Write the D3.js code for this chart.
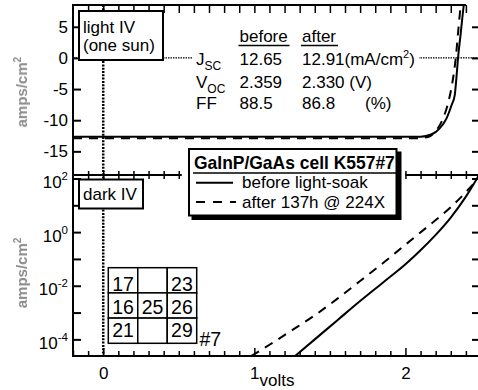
<!DOCTYPE html>
<html>
<head>
<meta charset="utf-8">
<title>GaInP/GaAs cell K557#7 light and dark IV</title>
<style>
  body { margin: 0; background: white; }
  svg { display: block; }
  text { font-family: "Liberation Sans", Arial, sans-serif; font-size: 17px; fill: black; }
  .axis path.domain { display: none; }
  .axis line { stroke: black; stroke-width: 1.5; }
  .frame { stroke: black; stroke-width: 2; }
</style>
<script src="https://cdnjs.cloudflare.com/ajax/libs/d3/7.8.5/d3.min.js"></script>
</head>
<body>
<script>
// light IV at one sun: volts vs mA/cm2
var lightVoltsBefore = [-0.2, 2.10, 2.17, 2.227, 2.272, 2.305, 2.326, 2.338, 2.348, 2.366, 2.386, 2.40];
var lightJBefore     = [-12.65, -12.65, -12.3, -11.3, -9.7, -7.6, -6.0, -3.0, 0, 4.0, 8.5, 11];
var lightVoltsAfter  = [-0.2, 2.05, 2.15, 2.205, 2.249, 2.287, 2.315, 2.333, 2.35, 2.366, 2.38];
var lightJAfter      = [-12.91, -12.91, -12.7, -11.6, -9.7, -6.8, -3.3, 0, 4.5, 8.5, 11];

// dark IV: volts vs amps/cm2 (log)
var darkVoltsBefore = [1.27, 1.40, 1.55, 1.70, 1.85, 2.00, 2.10, 2.20, 2.30, 2.40, 2.50];
var darkJBefore     = [2.4e-5, 1.0e-4, 5.2e-4, 2.7e-3, 1.3e-2, 6.3e-2, 0.21, 0.79, 3.5, 21, 180];
var darkVoltsAfter  = [0.98, 1.10, 1.25, 1.40, 1.55, 1.70, 1.85, 2.00, 2.15, 2.30, 2.45, 2.55];
var darkJAfter      = [2.4e-5, 6.3e-5, 2.2e-4, 7.9e-4, 3.3e-3, 1.5e-2, 6.9e-2, 0.34, 1.66, 8.5, 63, 280];

// tick labels
var xLabels = [0, 1, 2];
var topTicks = [5, 0, -5, -10, -15];
var logTicks = [1e2, 1e1, 1e0, 1e-1, 1e-2, 1e-3, 1e-4];
var logLabels = [["10", "2"], ["10", "0"], ["10", "-2"], ["10", "-4"]];
var logLabelValues = [1e2, 1e0, 1e-2, 1e-4];

// parameter table
var paramNames = ["J", "V", "FF"];
var paramSubs = ["SC", "OC", ""];
var paramBefore = ["12.65", "2.359", "88.5"];
var paramAfter = ["12.91", "2.330 (V)", "86.8"];

// legend
var legendTitle = "GaInP/GaAs cell K557#7";
var legendItems = ["before light-soak", "after 137h @ 224X"];

// cell map of the wafer
var cellRows = [["17", "", "23"], ["16", "25", "26"], ["21", "", "29"]];

var width = 478, height = 390;
var L = 73, R = 481, T = 5, M = 175, B = 356;

var x = d3.scaleLinear().domain([-0.2, 2.5]).range([L, R]);
var yTop = d3.scaleLinear().domain([-18.8, 8.5]).range([M, T]);
var yBot = d3.scaleLog().domain([Math.pow(10, -4.62), Math.pow(10, 2.13)]).range([B, M]);

var svg = d3.select("body").append("svg")
    .attr("width", width)
    .attr("height", height);

var defs = svg.append("defs");
defs.append("clipPath").attr("id", "clipTop").append("rect")
    .attr("x", L).attr("y", T).attr("width", width - L).attr("height", M - T);
defs.append("clipPath").attr("id", "clipBot").append("rect")
    .attr("x", L).attr("y", M).attr("width", width - L).attr("height", B - M);
defs.append("filter").attr("id", "soft").append("feGaussianBlur").attr("stdDeviation", 0.7);

// dotted zero lines
svg.append("line")
    .attr("x1", L).attr("x2", width)
    .attr("y1", yTop(0)).attr("y2", yTop(0))
    .attr("stroke", "black").attr("stroke-width", 1.2)
    .attr("stroke-dasharray", "1.5,1");
svg.append("line")
    .attr("x1", x(0)).attr("x2", x(0))
    .attr("y1", T).attr("y2", B)
    .attr("stroke", "black").attr("stroke-width", 2.5)
    .attr("stroke-dasharray", "2,1.3");

// curves
var lightLine = d3.line().curve(d3.curveMonotoneX)
    .x(d => x(d[0])).y(d => yTop(d[1]));
var darkLine = d3.line().curve(d3.curveMonotoneX)
    .x(d => x(d[0])).y(d => yBot(d[1]));

var gTop = svg.append("g").attr("clip-path", "url(#clipTop)");
gTop.append("path")
    .attr("d", lightLine(d3.zip(lightVoltsBefore, lightJBefore)))
    .attr("fill", "none").attr("stroke", "black").attr("stroke-width", 2);
gTop.append("path")
    .attr("d", lightLine(d3.zip(lightVoltsAfter, lightJAfter)))
    .attr("fill", "none").attr("stroke", "black").attr("stroke-width", 2)
    .attr("stroke-dasharray", "9,7");

var gBot = svg.append("g").attr("clip-path", "url(#clipBot)");
gBot.append("path")
    .attr("d", darkLine(d3.zip(darkVoltsBefore, darkJBefore)))
    .attr("fill", "none").attr("stroke", "black").attr("stroke-width", 2);
gBot.append("path")
    .attr("d", darkLine(d3.zip(darkVoltsAfter, darkJAfter)))
    .attr("fill", "none").attr("stroke", "black").attr("stroke-width", 2)
    .attr("stroke-dasharray", "9,7");

// frame lines
svg.append("line").attr("class", "frame").attr("x1", L).attr("x2", L).attr("y1", T - 1).attr("y2", B + 1);
svg.append("line").attr("class", "frame").attr("x1", L).attr("x2", width).attr("y1", B).attr("y2", B);
svg.append("line").attr("class", "frame").attr("x1", L).attr("x2", x(2.4)).attr("y1", T).attr("y2", T);
svg.append("line").attr("class", "frame").attr("x1", L).attr("x2", x(0.5) + 3).attr("y1", M).attr("y2", M);
svg.append("line").attr("class", "frame").attr("x1", x(2.0)).attr("x2", width).attr("y1", M).attr("y2", M);

// x ticks
var xMinor = d3.range(-2, 26).map(i => i / 10).filter(v => xLabels.indexOf(v) < 0);
svg.append("g").attr("class", "axis").attr("transform", "translate(0," + B + ")")
    .call(d3.axisTop(x).tickValues(xMinor).tickSize(5).tickFormat(""));
svg.append("g").attr("class", "axis").attr("transform", "translate(0," + B + ")")
    .call(d3.axisTop(x).tickValues(xLabels).tickSize(8).tickFormat(""));
svg.append("g").attr("class", "axis").attr("transform", "translate(0," + B + ")")
    .call(d3.axisBottom(x).tickValues(xLabels).tickSize(0).tickPadding(10.5).tickFormat(d => String(d)));

svg.append("g").attr("class", "axis").attr("transform", "translate(0," + T + ")")
    .call(d3.axisBottom(x).tickValues(d3.range(-1, 25).map(i => i / 10)).tickSize(8).tickFormat(""));

var midTicks = d3.range(-1, 26).map(i => i / 10).filter(v => v <= 0.5 || v >= 2.0);
svg.append("g").attr("class", "axis").attr("transform", "translate(0," + M + ")")
    .call(d3.axisBottom(x).tickValues(midTicks).tickSize(4).tickFormat(""));
svg.append("g").attr("class", "axis").attr("transform", "translate(0," + M + ")")
    .call(d3.axisTop(x).tickValues(midTicks).tickSize(4).tickFormat(""));

// y ticks, left and right
svg.append("g").attr("class", "axis").attr("transform", "translate(" + L + ",0)")
    .call(d3.axisRight(yTop).tickValues(topTicks).tickSize(8).tickFormat(""))
    .selectAll("line").style("stroke-width", 2);
svg.append("g").attr("class", "axis").attr("transform", "translate(" + L + ",0)")
    .call(d3.axisLeft(yTop).tickValues(topTicks).tickSize(0).tickPadding(5).tickFormat(d => String(d)));
svg.append("g").attr("class", "axis").attr("transform", "translate(" + R + ",0)")
    .call(d3.axisLeft(yTop).tickValues(topTicks).tickSize(9).tickFormat(""))
    .selectAll("line").style("stroke-width", 2);

svg.append("g").attr("class", "axis").attr("transform", "translate(" + L + ",0)")
    .call(d3.axisRight(yBot).tickValues(logTicks).tickSize(8).tickFormat(""))
    .selectAll("line").style("stroke-width", 2);
svg.append("g").attr("class", "axis").attr("transform", "translate(" + R + ",0)")
    .call(d3.axisLeft(yBot).tickValues(logTicks).tickSize(9).tickFormat(""))
    .selectAll("line").style("stroke-width", 2);

var logText = svg.append("g").selectAll("text")
    .data(logLabelValues)
    .join("text")
    .attr("x", L - 5)
    .attr("y", d => yBot(d) + 9.5)
    .attr("text-anchor", "end");
logText.append("tspan").text((d, i) => logLabels[i][0]);
logText.append("tspan").attr("dy", -8).style("font-size", "11.5px").text((d, i) => logLabels[i][1]);

// axis titles
svg.append("text")
    .attr("x", x(1.15)).attr("y", 386)
    .attr("text-anchor", "middle")
    .text("volts");

[yTop(-5.5), yBot(0.03)].forEach(function (cy) {
  var t = svg.append("text")
      .attr("transform", "translate(27," + cy + ") rotate(-90)")
      .attr("text-anchor", "middle")
      .attr("filter", "url(#soft)")
      .style("font-size", "15px").style("font-weight", "bold").style("fill", "#8c8c8c");
  t.append("tspan").text("amps/cm");
  t.append("tspan").attr("dy", -6).style("font-size", "10px").text("2");
});

// light IV box
svg.append("rect").attr("x", 79).attr("y", 11).attr("width", 84).attr("height", 49)
    .attr("fill", "white").attr("stroke", "black").attr("stroke-width", 2);
svg.append("text").attr("x", 83).attr("y", 32.5).text("light IV");
svg.append("text").attr("x", 83).attr("y", 51).text("(one sun)");

// dark IV box
svg.append("rect").attr("x", 79).attr("y", 179.5).attr("width", 64).attr("height", 29)
    .attr("fill", "white").attr("stroke", "black").attr("stroke-width", 2);
svg.append("text").attr("x", 83).attr("y", 200).text("dark IV");

// parameter table
svg.append("rect").attr("x", 193).attr("y", 50).attr("width", 226).attr("height", 18).attr("fill", "white");
var colBefore = 239.5, colAfter = 302, colName = 196;
var rowY = [64.5, 88, 109];
svg.append("text").attr("x", colBefore).attr("y", 42).text("before");
svg.append("text").attr("x", colAfter).attr("y", 42).text("after");
svg.append("line").attr("x1", colBefore - 1).attr("x2", colBefore + 50).attr("y1", 45.5).attr("y2", 45.5)
    .attr("stroke", "black").attr("stroke-width", 1.5);
svg.append("line").attr("x1", colAfter - 1).attr("x2", colAfter + 36).attr("y1", 45.5).attr("y2", 45.5)
    .attr("stroke", "black").attr("stroke-width", 1.5);

paramNames.forEach(function (name, i) {
  var t = svg.append("text").attr("x", colName).attr("y", rowY[i]);
  t.append("tspan").text(name);
  if (paramSubs[i]) t.append("tspan").attr("dy", 5).style("font-size", "12px").text(paramSubs[i]);
  svg.append("text").attr("x", colBefore).attr("y", rowY[i]).text(paramBefore[i]);
});
var jAfter = svg.append("text").attr("x", colAfter).attr("y", rowY[0]);
jAfter.append("tspan").text(paramAfter[0] + "(mA/cm");
jAfter.append("tspan").attr("dy", -7).style("font-size", "11px").text("2");
jAfter.append("tspan").attr("dy", 7).text(")");
svg.append("text").attr("x", colAfter).attr("y", rowY[1]).text(paramAfter[1]);
svg.append("text").attr("x", colAfter).attr("y", rowY[2]).text(paramAfter[2]);
svg.append("text").attr("x", 365).attr("y", rowY[2]).text("(%)");

// legend
svg.append("rect").attr("x", 191.5).attr("y", 151.5).attr("width", 210).attr("height", 68.5).attr("fill", "black");
svg.append("rect").attr("x", 189).attr("y", 149).attr("width", 207.5).attr("height", 66.5)
    .attr("fill", "white").attr("stroke", "black").attr("stroke-width", 2);
var title = svg.append("text").attr("x", 194).attr("y", 169)
    .style("font-weight", "bold").style("font-size", "18px").text(legendTitle);
// fit the bold title to the width it takes in the figure
var titleLen = title.node().getComputedTextLength();
title.style("font-size", (18 * 201 / titleLen).toFixed(2) + "px");
svg.append("line").attr("x1", 193).attr("x2", 396).attr("y1", 173).attr("y2", 173)
    .attr("stroke", "black").attr("stroke-width", 1.5);
var legY = [188.3, 207.5];
legendItems.forEach(function (label, i) {
  svg.append("line").attr("x1", 196).attr("x2", i ? 236 : 233)
      .attr("y1", legY[i] - 5.6).attr("y2", legY[i] - 5.6)
      .attr("stroke", "black").attr("stroke-width", 2)
      .attr("stroke-dasharray", i ? "9,8" : null);
  svg.append("text").attr("x", 242).attr("y", legY[i]).text(label);
});

// cell map
var cx = d3.scaleBand().domain([0, 1, 2]).range([108.3, 196.7]);
var cy = d3.scaleBand().domain([0, 1, 2]).range([267.7, 343.3]);
var cellBase = [22.8, 21.5, 19];
var gCells = svg.append("g");
cellRows.forEach(function (row, r) {
  row.forEach(function (label, c) {
    gCells.append("rect")
        .attr("x", cx(c)).attr("y", cy(r))
        .attr("width", cx.bandwidth()).attr("height", cy.bandwidth())
        .attr("fill", "white").attr("stroke", "black").attr("stroke-width", 1.5);
    gCells.append("text")
        .attr("x", cx(c) + cx.bandwidth() / 2).attr("y", cy(r) + cellBase[r])
        .attr("text-anchor", "middle").style("font-size", "19.5px")
        .text(label);
  });
});
svg.append("text").attr("x", 199.5).attr("y", 345.5).style("font-size", "19.5px").text("#7");
</script>
</body>
</html>
